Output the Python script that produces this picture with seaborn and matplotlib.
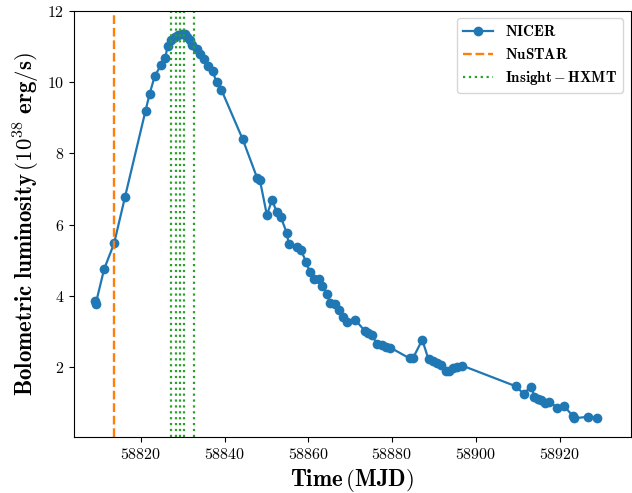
import matplotlib
matplotlib.use("Agg")
import matplotlib.pyplot as plt
import seaborn as sns
import pandas as pd

# NICER bolometric luminosity (1e38 erg/s) vs MJD
mjd = [58809.0, 58809.2, 58811.2, 58813.6, 58816.2, 58821.1, 58822.1, 58823.3, 58824.8,
       58825.8, 58826.4, 58827.3, 58828.1, 58828.9, 58829.7, 58830.5, 58830.9, 58831.7,
       58832.3, 58833.4, 58834.2, 58835.0, 58836.1, 58837.1, 58838.1, 58839.2,
       58844.3, 58847.8, 58848.4, 58850.1, 58850.1, 58851.3, 58852.4, 58853.4, 58854.8,
       58855.3, 58857.2, 58858.2, 58859.5, 58860.3, 58861.3, 58862.5, 58863.3, 58864.5,
       58865.1, 58866.3, 58867.3, 58868.3, 58869.3, 58871.2, 58873.5, 58874.3, 58875.2,
       58876.4, 58877.5, 58878.6, 58879.6, 58884.2, 58885.0, 58887.2, 58888.7, 58889.8,
       58890.7, 58891.7, 58892.9, 58893.7, 58894.5, 58895.5, 58896.7,
       58909.5, 58911.4, 58913.2, 58914.0, 58914.8, 58915.6, 58916.6, 58917.4, 58919.5,
       58921.1, 58923.2, 58923.5, 58926.7, 58928.9]
lum = [3.85, 3.78, 4.75, 5.48, 6.78, 9.2, 9.68, 10.17, 10.48,
       10.68, 11.02, 11.17, 11.26, 11.33, 11.35, 11.34, 11.26, 11.17,
       11.05, 10.93, 10.79, 10.65, 10.44, 10.3, 10.0, 9.79,
       8.4, 7.3, 7.26, 6.35, 6.18, 6.7, 6.37, 6.22, 5.78,
       5.47, 5.38, 5.3, 4.94, 4.68, 4.49, 4.49, 4.27, 4.07,
       3.79, 3.77, 3.6, 3.41, 3.28, 3.33, 3.02, 2.97, 2.9,
       2.65, 2.62, 2.58, 2.55, 2.25, 2.26, 2.77, 2.22, 2.17,
       2.11, 2.06, 1.9, 1.9, 1.99, 2.01, 2.05,
       1.47, 1.26, 1.46, 1.18, 1.12, 1.07, 1.01, 1.04, 0.87,
       0.91, 0.63, 0.57, 0.61, 0.58]

nustar_mjd = [58813.6]
hxmt_mjd = [58827.2, 58828.4, 58829.3, 58830.2, 58832.7]

plt.rcParams['font.family'] = 'cmr10'
plt.rcParams['mathtext.fontset'] = 'cm'
plt.rcParams['axes.formatter.use_mathtext'] = True

fig = plt.figure(figsize=(6.32, 4.93), dpi=100)
ax = fig.add_axes([0.117, 0.114, 0.881, 0.864])

df = pd.DataFrame({'MJD': mjd, 'L': lum})
sns.lineplot(data=df, x='MJD', y='L', ax=ax, marker='o', sort=False,
             color='#1f77b4', linewidth=1.6, markersize=7, markeredgewidth=0,
             label=r'$\mathbf{NICER}$')

for i, m in enumerate(nustar_mjd):
    ax.axvline(m, color='#ff7f0e', linestyle='--', linewidth=1.7,
               label=r'$\mathbf{NuSTAR}$' if i == 0 else None)
for i, m in enumerate(hxmt_mjd):
    ax.axvline(m, color='#2ca02c', linestyle=':', linewidth=1.6,
               label=r'$\mathbf{Insight-HXMT}$' if i == 0 else None)

ax.set_xlim(58804, 58937)
ax.set_ylim(0.05, 12)
ax.set_xticks([58820, 58840, 58860, 58880, 58900, 58920])
ax.set_yticks([2, 4, 6, 8, 10, 12])
ax.tick_params(labelsize=11.5)
ax.set_xlabel(r'$\mathbf{Time\,(MJD)}$', fontsize=16.5)
ax.set_ylabel(r'$\mathbf{Bolometric\ luminosity\,(10^{38}\ erg/s)}$', fontsize=16.5)
ax.legend(loc='upper right', fontsize=10.8)

fig.savefig('out.png', dpi=100)
